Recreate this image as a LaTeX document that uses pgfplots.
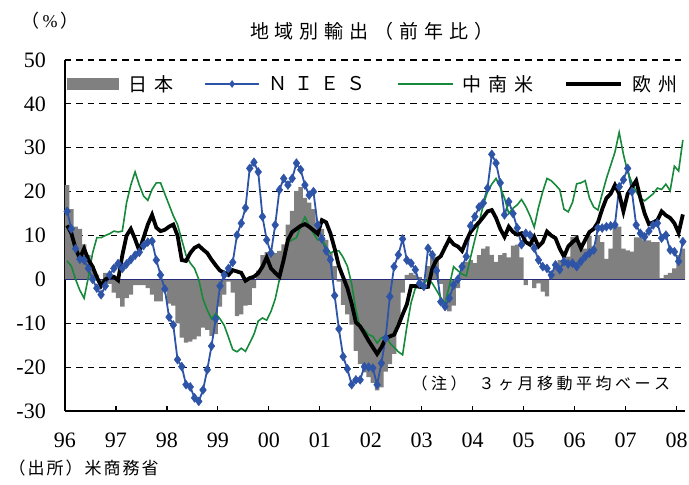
\documentclass[border=0pt]{standalone}
\usepackage{fontspec}
\setmainfont{Liberation Serif}
\newfontfamily\jp{Noto Sans CJK JP}
\usepackage{pgfplots}
\usepackage{pgfplotstable}
\pgfplotsset{compat=1.18}
\definecolor{jpgray}{RGB}{128,128,128}
\definecolor{niesblue}{RGB}{46,84,168}
\definecolor{lagreen}{RGB}{22,138,58}
\definecolor{zeronavy}{RGB}{40,40,120}
\newcommand{\kA}{\hspace{6pt}}
\newcommand{\kB}{\hspace{7pt}}
\newcommand{\kC}{\hspace{7pt}}
\newcommand{\kD}{\hspace{3.5pt}}
\newcommand{\kE}{\hspace{2pt}}

\pgfplotstableread{
x jp nies la eu
0.5 21.5 15.5 4.2 12.3
1.5 16 11.5 3 10.5
2.5 12 7 0 7
3.5 11.5 4.6 -2.5 4.8
4.5 8 4.4 -4.3 7
5.5 5.5 2.5 0.5 4.5
6.5 3 0 6 2.9
7.5 1 -2 9.5 0.5
8.5 -1 -3.5 9.5 -1.5
9.5 1.5 -1.5 10 0
10.5 -1 1 10.4 0.5
11.5 -3 2.5 11 0.6
12.5 -4.3 3.6 10.8 -0.2
13.5 -6.2 2.5 11 5.5
14.5 -4.3 3.5 17.5 10
15.5 -3.5 4.5 21.5 11.5
16.5 -1.3 5.5 24.5 9.2
17.5 -1.3 6.2 21.5 6.5
18.5 -1.3 7.7 19 9.5
19.5 -2 8.5 18 12.5
20.5 -3.5 8.7 20.5 14.7
21.5 -5 4.4 22 11.8
22.5 -5 1 22 11
23.5 -2.5 -2.2 19.5 11.3
24.5 -5.5 -8.6 17 12
25.5 -6 -10.4 14.5 12.5
26.5 -10 -18.3 12.5 10
27.5 -13.3 -19.9 9 4.4
28.5 -14.4 -24 5.5 4.2
29.5 -14.2 -24.5 3.7 6
30.5 -13.7 -27 2.5 7.2
31.5 -13 -27.8 0 7.7
32.5 -11 -25.2 -4.5 6.8
33.5 -11.5 -20.6 -7 6
34.5 -12.9 -15.2 -9 4.5
35.5 -12.5 -9 -7.8 3.2
36.5 -6.2 -1.5 -9 2
37.5 -3.5 1 -10.5 1.5
38.5 -0.5 2.5 -13.2 1
39.5 -3 3.9 -16 2.1
40.5 -8.4 10.1 -16.5 1.8
41.5 -8 12.8 -15.7 1.5
42.5 -6 16.3 -16.4 -0.3
43.5 -5.8 25.3 -14.5 0.3
44.5 -2 26.7 -12.5 0.6
45.5 2 24.5 -9.5 1.4
46.5 5.5 14.3 -8.8 2.9
47.5 6.2 9 -9.3 5
48.5 5.5 6 -7.3 2.5
49.5 6 12.4 -4.5 1.5
50.5 6.5 20.4 0 0.6
51.5 8 23 4 4.5
52.5 12.5 21.5 8.5 9
53.5 15.6 23 9 10.8
54.5 20.2 26.5 9.5 11.5
55.5 21 25 12 12.2
56.5 18.6 21.5 14.2 12.6
57.5 17.5 19.2 12.3 12
58.5 16 20 10.5 11.2
59.5 12.3 12.4 9 10.4
60.5 11.5 9.2 9 13.5
61.5 9 6.5 7.5 13
62.5 6.2 4.5 6 10.5
63.5 3 -3.7 6.5 7
64.5 -0.5 -11.3 6.5 3
65.5 -5.8 -17.6 5 0.5
66.5 -8 -20.4 3 -2
67.5 -10.3 -24 -1 -5.5
68.5 -16.3 -22.9 -7 -9.8
69.5 -19.3 -22.9 -11 -10.7
70.5 -21.2 -19.9 -11.5 -12.3
71.5 -22.3 -20 -12.6 -14
72.5 -23.6 -20.2 -13 -15.5
73.5 -25.3 -24 -14.5 -17
74.5 -24.6 -19.1 -13.3 -15.5
75.5 -21 -13.4 -13 -13.5
76.5 -19.3 -3.9 -14.5 -13
77.5 -17 2.9 -15.5 -12.6
78.5 -10.3 5.6 -16.5 -10.5
79.5 -3 9.2 -17.2 -8
80.5 1 4.4 -10.8 -5.7
81.5 1.5 3.7 -5.3 -1.5
82.5 1 2.2 -2 -1.5
83.5 0.5 -0.9 -1.5 -1.7
84.5 -0.5 -1.6 -1 -1.8
85.5 3 7.1 0 -1.7
86.5 5 5.6 -0.9 2.5
87.5 5.2 2 -2.5 4.5
88.5 -1 -5.1 -4.2 5.3
89.5 -5.5 -6.2 -5.5 7.3
90.5 -7.3 -4.3 -1.5 9.2
91.5 -6 -1.3 2.9 8
92.5 -2 0 2 7.5
93.5 2.9 2.9 1.2 6.5
94.5 4 5.2 0.8 8.8
95.5 4.4 12.2 5 10.8
96.5 3.7 14.3 9 12
97.5 5.5 16.5 12.8 13
98.5 7 17.4 17 14.2
99.5 7.5 20.8 20 15.5
100.5 5.6 28.5 21.7 15.8
101.5 4 26.5 23 14
102.5 5.5 22 21 11.5
103.5 6 14.7 18.5 9.7
104.5 5 17.7 15 12
105.5 7.7 15 16.2 10.8
106.5 7.9 11.7 17 10.2
107.5 5 7.9 18.2 10.5
108.5 -1.3 10.5 16.6 8.5
109.5 0 10.1 14.5 7.9
110.5 -2 7.1 11.9 9.7
111.5 -0.9 4.4 16.4 7.5
112.5 -2.8 2.9 20 8.5
113.5 -3.9 2.5 23 10.9
114.5 1 1 22.5 10
115.5 2.9 3.3 21.5 9.4
116.5 4.4 2.2 20.5 7
117.5 4 4.1 16 5.2
118.5 5.2 3.5 15.4 7.5
119.5 9.7 3.7 17.5 8.5
120.5 10 2.9 21.8 9.3
121.5 8.2 4.1 22 7.1
122.5 7 5.2 22.5 9
123.5 10 6 18.5 10.8
124.5 7.5 6.7 16.5 11.5
125.5 10.1 11.7 15.8 13
126.5 8.5 11.7 19.5 16
127.5 4.7 12 23 18.5
128.5 7 12.2 26 19.5
129.5 12.3 12.4 29 21.5
130.5 12 21.1 33.5 19.5
131.5 7 22.7 28.5 15.5
132.5 6.6 25.3 24.5 19.5
133.5 6.3 20 22 21
134.5 9.6 12.4 20 22.5
135.5 9.6 10.5 18.5 18.5
136.5 8.9 9.7 17.9 15
137.5 8.9 11 18.7 12.6
138.5 8.5 12.4 19.5 13
139.5 8.5 12.8 20.8 13.5
140.5 0.3 9.4 20.5 15.5
141.5 1 10.1 21.7 14.6
142.5 1.5 6.7 20.2 14
143.5 2.5 6.3 25.8 12.8
144.5 5.5 4.1 24.7 10.6
145.5 7 8.6 31.8 14.8
}\data

\begin{document}
\begin{tikzpicture}
\begin{axis}[
  scale only axis, width=620pt, height=351pt,
  xmin=0, xmax=146, ymin=-30, ymax=50,
  axis lines*=left,
  axis line style={line width=2pt, black},
  xtick={0,12,...,144},
  xticklabels={96,97,98,99,00,01,02,03,04,05,06,07,08},
  ytick={-30,-20,...,50},
  yticklabels={-30,-20,-10,0,10,20,30,40,50},
  tick align=inside, major tick length=5pt,
  tick style={black, line width=1.2pt},
  ymajorgrids,
  grid style={black, line width=1.1pt, dash pattern=on 6.5pt off 5pt},
  ticklabel style={font=\fontsize{22}{22}\selectfont, inner sep=0pt},
  yticklabel style={anchor=east, xshift=-19pt},
  xticklabel style={anchor=north, yshift=-22pt},
  clip=false,
  legend style={at={(rel axis cs:0.0032,0.9316)}, anchor=west, draw=none, fill=none,
    inner sep=0pt, nodes={inner xsep=0pt, inner ysep=2pt},
    font=\jp\fontsize{19}{19}\selectfont, legend columns=4,
    /tikz/every odd column/.append style={column sep=9pt},
    /tikz/every even column/.append style={column sep=31pt}},
]
\addplot[ybar, bar width=1.04, bar shift=0pt, fill=jpgray, draw=none,
  legend image code/.code={\fill[jpgray] (0pt,-6pt) rectangle (52pt,6pt);}]
  table[x=x, y=jp]{\data};
\addlegendentry{日\kB 本}
\addplot[zeronavy, line width=1.6pt, forget plot] coordinates {(0,0) (146,0)};
\addplot[niesblue, line width=1.8pt, mark=diamond*, mark size=4.5pt,
  mark options={solid, fill=niesblue, draw=niesblue, line width=0.4pt},
  legend image code/.code={\draw[niesblue, line width=1.8pt, mark=diamond*, mark size=3.5pt, mark options={fill=niesblue, line width=0.4pt}, mark repeat=2, mark phase=2] plot coordinates {(0pt,0pt) (27pt,0pt) (54pt,0pt)};}]
  table[x=x, y=nies]{\data};
\addlegendentry{Ｎ\kC Ｉ\kC Ｅ\kC Ｓ}
\addplot[lagreen, line width=1.6pt,
  legend image code/.code={\draw[lagreen, line width=1.6pt] (0pt,0pt) -- (55pt,0pt);}]
  table[x=x, y=la]{\data};
\addlegendentry{中\kB 南\kB 米}
\addplot[black, line width=3.8pt,
  legend image code/.code={\draw[black, line width=3.8pt] (0pt,0pt) -- (55pt,0pt);}]
  table[x=x, y=eu]{\data};
\addlegendentry{欧\kB 州}
\end{axis}
\node[anchor=center, font=\jp\fontsize{19}{19}\selectfont] at ([shift={(307pt,380pt)}]current axis.south west)
  {地\kA 域\kA 別\kA 輸\kA 出\kA （\kA 前\kA 年\kA 比\kA ）};
\node[anchor=center, font=\fontsize{18}{18}\selectfont] at ([shift={(-15pt,390pt)}]current axis.south west)
  {{\jp （}\,\%\,{\jp ）}};
\node[anchor=west, font=\jp\fontsize{17}{17}\selectfont] at ([shift={(-60pt,-57pt)}]current axis.south west)
  {（\kE 出\kE 所\kE ）\kE 米\kE 商\kE 務\kE 省};
\node[anchor=west, font=\jp\fontsize{16}{16}\selectfont] at ([shift={(343pt,28pt)}]current axis.south west)
  {（\kD 注\kD ）\hspace{12pt}３\kD ヶ\kD 月\kD 移\kD 動\kD 平\kD 均\kD ベ\kD ー\kD ス};
\pgfresetboundingbox
\path[use as bounding box] ([shift={(-65pt,-74pt)}]current axis.south west) rectangle ([shift={(624pt,411pt)}]current axis.south west);
\end{tikzpicture}
\end{document}
